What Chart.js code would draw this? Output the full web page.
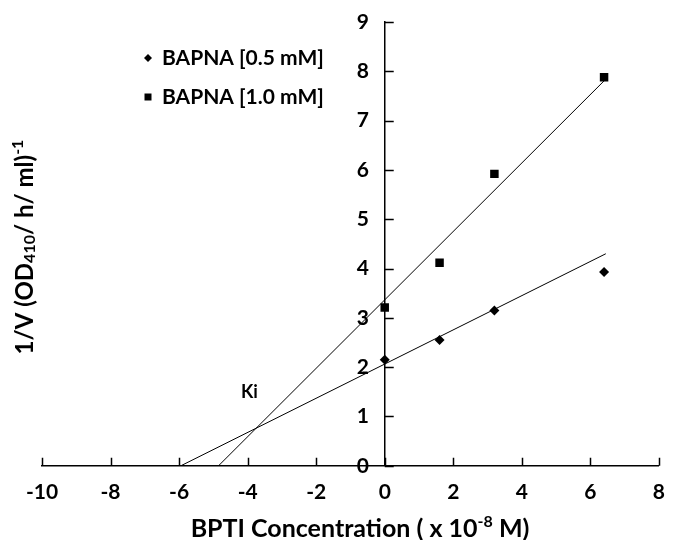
<!DOCTYPE html>
<html>
<head>
<meta charset="utf-8">
<script src="https://cdn.jsdelivr.net/npm/chart.js@4.4.0/dist/chart.umd.min.js"></script>
<style>
  html, body { margin: 0; padding: 0; background: #fff; }
  #wrap { width: 679px; height: 540px; position: relative; }
</style>
</head>
<body>
<div id="wrap"><canvas id="kiChart"></canvas></div>
<script>
// BPTI concentration (x 10^-8 M)
var bptiConc = [0, 1.6, 3.2, 6.4];
// 1/V readings for the two substrate levels
var bapna05 = [2.15, 2.55, 3.15, 3.93];
var bapna10 = [3.21, 4.12, 5.92, 7.88];
// trend line end points as drawn on the plot
var fit05X = [-5.95, 6.45];
var fit05Y = [0, 4.3];
var fit10X = [-4.85, 6.42];
var fit10Y = [0, 7.82];

var xTicks = [-10, -8, -6, -4, -2, 0, 2, 4, 6, 8];
var yTicks = [0, 1, 2, 3, 4, 5, 6, 7, 8, 9];
var seriesNames = ['BAPNA [0.5 mM]', 'BAPNA [1.0 mM]'];

var FONT = 'Lato, "Liberation Sans", sans-serif';

function toPoints(xs, ys) {
    return xs.map(function (x, i) { return { x: x, y: ys[i] }; });
}

// draws a string made of normal / sub / sup pieces, centred on 0,0
function drawRuns(ctx, runs, size) {
    var total = 0;
    runs.forEach(function (r) {
        r.size = r[1] ? Math.round(size * 0.65) : size;
        ctx.font = 'bold ' + r.size + 'px ' + FONT;
        r.w = ctx.measureText(r[0]).width;
        total += r.w;
    });
    var x = -total / 2;
    runs.forEach(function (r) {
        var dy = size * 0.36;
        if (r[1] === 'sub') dy += size * 0.1;
        if (r[1] === 'sup') dy -= size * 0.4;
        ctx.font = 'bold ' + r.size + 'px ' + FONT;
        ctx.fillText(r[0], x, dy);
        x += r.w;
    });
}

function marker(ctx, style, x, y, r) {
    ctx.beginPath();
    if (style === 'rect') {
        ctx.rect(x - r, y - r, 2 * r, 2 * r);
    } else {
        ctx.moveTo(x, y - r); ctx.lineTo(x + r, y); ctx.lineTo(x, y + r); ctx.lineTo(x - r, y);
        ctx.closePath();
    }
    ctx.fill();
}

var decorations = {
    id: 'decorations',
    afterDraw: function (chart) {
        var ctx = chart.ctx;
        var xs = chart.scales.x, ys = chart.scales.y;
        var x0 = xs.getPixelForValue(0);
        var y0 = ys.getPixelForValue(0);

        ctx.save();
        // inward tick marks
        ctx.strokeStyle = '#000';
        ctx.lineWidth = 1.5;
        ctx.beginPath();
        xTicks.forEach(function (v) {
            var px = Math.round(xs.getPixelForValue(v)) + 0.5;
            ctx.moveTo(px, y0); ctx.lineTo(px, y0 - 8);
        });
        yTicks.forEach(function (v) {
            var py = Math.round(ys.getPixelForValue(v)) + 0.5;
            ctx.moveTo(x0, py); ctx.lineTo(x0 + 9, py);
        });
        ctx.stroke();

        ctx.fillStyle = '#000';
        ctx.textAlign = 'left';
        ctx.textBaseline = 'alphabetic';

        // axis titles
        ctx.save();
        ctx.translate(360, 528);
        drawRuns(ctx, [['BPTI Concentration ( x 10', ''], ['-8', 'sup'], [' M)', '']], 25);
        ctx.restore();

        ctx.save();
        ctx.translate(24, 247);
        ctx.rotate(-Math.PI / 2);
        drawRuns(ctx, [['1/V (OD', ''], ['410', 'sub'], ['/ h/ ml)', ''], ['-1', 'sup']], 24);
        ctx.restore();

        // legend
        ctx.font = 'bold 21px ' + FONT;
        ctx.textBaseline = 'middle';
        marker(ctx, 'rectRot', 148, 58, 4);
        ctx.fillText(seriesNames[0], 162, 58);
        marker(ctx, 'rect', 148, 97, 3.5);
        ctx.fillText(seriesNames[1], 162, 97);

        // Ki label near the crossing
        ctx.font = 'bold 18px ' + FONT;
        ctx.textAlign = 'center';
        ctx.fillText('Ki', xs.getPixelForValue(-3.95), ys.getPixelForValue(1.5));
        ctx.restore();
    }
};

var ctx = document.getElementById('kiChart').getContext('2d');
var chart = new Chart(ctx, {
    type: 'scatter',
    data: {
        datasets: [
            {
                label: seriesNames[0],
                data: toPoints(bptiConc, bapna05),
                pointStyle: 'rectRot',
                pointRadius: 5,
                backgroundColor: '#000',
                borderColor: '#000',
                borderWidth: 0,
                order: 1
            },
            {
                label: seriesNames[1],
                data: toPoints(bptiConc, bapna10),
                pointStyle: 'rect',
                pointRadius: 6,
                backgroundColor: '#000',
                borderColor: '#000',
                borderWidth: 0,
                order: 1
            },
            {
                label: 'fit 0.5',
                data: toPoints(fit05X, fit05Y),
                showLine: true,
                pointRadius: 0,
                borderColor: '#000',
                borderWidth: 1,
                order: 2
            },
            {
                label: 'fit 1.0',
                data: toPoints(fit10X, fit10Y),
                showLine: true,
                pointRadius: 0,
                borderColor: '#000',
                borderWidth: 1,
                order: 2
            }
        ]
    },
    options: {
        responsive: true,
        maintainAspectRatio: false,
        animation: false,
        layout: { padding: { left: 42, right: 7, top: 22, bottom: 21 } },
        plugins: {
            legend: { display: false },
            tooltip: { enabled: false }
        },
        scales: {
            x: {
                type: 'linear',
                min: -10,
                max: 8,
                afterBuildTicks: function (s) { s.ticks = xTicks.map(function (v) { return { value: v }; }); },
                grid: { display: true, drawOnChartArea: false, drawTicks: false },
                border: { display: true, color: '#000', width: 1.5 },
                ticks: {
                    autoSkip: false,
                    maxRotation: 0,
                    padding: 14,
                    color: '#000',
                    font: { family: FONT, size: 21, weight: 'bold' }
                }
            },
            y: {
                type: 'linear',
                position: { x: 0 },
                min: 0,
                max: 9,
                afterBuildTicks: function (s) { s.ticks = yTicks.map(function (v) { return { value: v }; }); },
                grid: { display: true, drawOnChartArea: false, drawTicks: false },
                border: { display: true, color: '#000', width: 1.5 },
                ticks: {
                    // labels sit well left of the centred axis
                    callback: function (v) { return v + '\u2002\u2005'; },
                    color: '#000',
                    font: { family: FONT, size: 21, weight: 'bold' }
                }
            }
        }
    },
    plugins: [decorations]
});
</script>
</body>
</html>
